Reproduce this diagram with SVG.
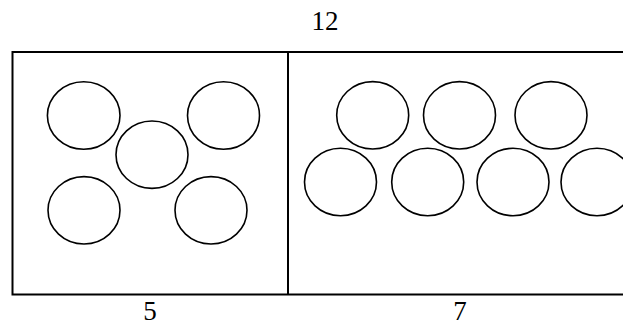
<svg xmlns="http://www.w3.org/2000/svg" width="623" height="326" viewBox="0 0 623 326">
<style>
.b{fill:none;stroke:#000;stroke-width:2}
.c{fill:none;stroke:#000;stroke-width:1.6}
.t{font-family:"Liberation Serif","Times New Roman",serif;font-size:27px;fill:#000;text-anchor:middle}
</style>
<rect width="623" height="326" fill="#fff"/>
<g id="frame">
<path class="b" d="M624 52H12.5V294.5H624M288 52V294.5"/>
</g>
<g id="left-circles">
<ellipse class="c" cx="83.7" cy="115.5" rx="36.3" ry="33.8"/>
<ellipse class="c" cx="223.5" cy="115.5" rx="36" ry="33.8"/>
<ellipse class="c" cx="152" cy="154.7" rx="36" ry="33.7"/>
<ellipse class="c" cx="84" cy="210.3" rx="36" ry="33.7"/>
<ellipse class="c" cx="211" cy="210.3" rx="36" ry="33.7"/>
</g>
<g id="right-circles">
<ellipse class="c" cx="372.7" cy="115.3" rx="36" ry="33.7"/>
<ellipse class="c" cx="459.5" cy="115.3" rx="36" ry="33.7"/>
<ellipse class="c" cx="551" cy="115.3" rx="36" ry="33.7"/>
<ellipse class="c" cx="340.5" cy="182" rx="36" ry="33.7"/>
<ellipse class="c" cx="427.7" cy="182" rx="36" ry="33.7"/>
<ellipse class="c" cx="513" cy="182" rx="36" ry="33.7"/>
<ellipse class="c" cx="597" cy="182" rx="36" ry="33.7"/>
</g>
<g id="labels">
<text class="t" x="325" y="30">12</text>
<text class="t" x="150" y="320">5</text>
<text class="t" x="460" y="320">7</text>
</g>
</svg>
